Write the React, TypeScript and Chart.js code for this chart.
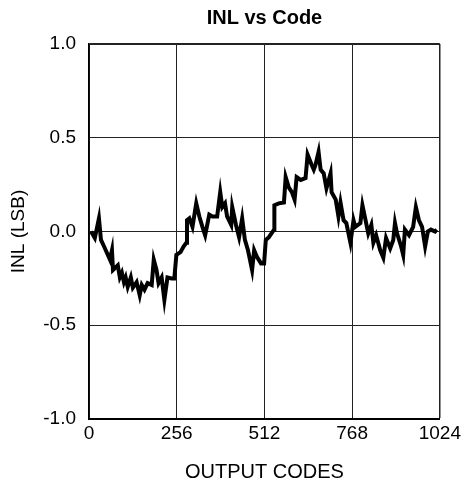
import React, { useEffect, useRef } from "react";
import { Chart, registerables } from "chart.js";

Chart.register(...registerables);

const codes = [
  6, 17, 29, 35, 44, 61, 67, 70, 84, 90, 96, 102, 107, 113, 122, 128, 139, 148, 154, 162,
  171, 183, 189, 197, 203, 212, 220, 229, 241, 249, 255, 267, 276, 284, 286, 293, 302, 313, 322, 331,
  339, 351, 360, 374, 383, 389, 397, 403, 415, 418, 429, 438, 447, 455, 464, 476, 482, 490, 502, 511,
  516, 525, 540, 541, 554, 569, 574, 583, 592, 600, 606, 618, 632, 638, 650, 656, 661, 670, 676, 685,
  693, 705, 708, 720, 728, 734, 743, 751, 763, 772, 777, 792, 798, 806, 815, 824, 830, 838, 850, 859,
  867, 879, 888, 893, 899, 911, 917, 922, 934, 946, 954, 963, 972, 981, 989, 998, 1010, 1015,
];

const inl = [
  0.0, -0.035, 0.07, -0.045, -0.08, -0.15, -0.1, -0.205, -0.18, -0.245, -0.22, -0.27, -0.245, -0.295, -0.245, -0.3, -0.27, -0.34, -0.285, -0.31,
  -0.275, -0.285, -0.15, -0.205, -0.275, -0.245, -0.365, -0.245, -0.25, -0.25, -0.125, -0.11, -0.08, -0.06, 0.06, 0.07, 0.025, 0.15, 0.08, 0.025,
  -0.02, 0.09, 0.08, 0.08, 0.21, 0.13, 0.15, 0.08, 0.035, 0.13, 0.035, -0.03, 0.07, -0.045, -0.1, -0.205, -0.1, -0.135, -0.17, -0.17,
  -0.045, -0.03, 0.01, 0.14, 0.15, 0.155, 0.29, 0.235, 0.21, 0.17, 0.29, 0.275, 0.285, 0.41, 0.355, 0.33, 0.355, 0.425, 0.33, 0.31,
  0.23, 0.31, 0.21, 0.17, 0.08, 0.155, 0.06, 0.045, -0.06, 0.06, 0.025, 0.045, 0.14, 0.07, -0.01, 0.035, -0.06, -0.02, -0.1, -0.14,
  -0.035, -0.09, -0.045, 0.045, -0.01, -0.08, -0.125, 0.01, -0.02, 0.025, 0.13, 0.06, 0.025, -0.08, 0.0, 0.01, 0.0, 0.01,
];

const xTicks = [0, 256, 512, 768, 1024];
const yTicks = [-1.0, -0.5, 0.0, 0.5, 1.0];

const FONT = "'Liberation Sans', Arial, Helvetica, sans-serif";

export default function App() {
  const ref = useRef<HTMLCanvasElement | null>(null);

  useEffect(() => {
    if (!ref.current) return;
    const chart = new Chart(ref.current, {
      type: "line",
      data: {
        datasets: [
          {
            data: codes.map((c, i) => ({ x: c, y: inl[i] })),
            borderColor: "#000",
            borderWidth: 4,
            pointRadius: 0,
            tension: 0,
            fill: false,
          },
        ],
      },
      options: {
        responsive: false,
        animation: false,
        layout: { padding: { left: 0, right: 22, top: 0, bottom: 0 } },
        plugins: {
          legend: { display: false },
          tooltip: { enabled: false },
          title: {
            display: true,
            text: "INL vs Code",
            fullSize: false,
            color: "#000",
            font: { family: FONT, size: 20, weight: "bold" },
            padding: { top: 6, bottom: 14 },
          },
        },
        scales: {
          x: {
            type: "linear",
            min: 0,
            max: 1024,
            afterFit: (s: any) => {
              s.height = 68;
            },
            afterBuildTicks: (s: any) => {
              s.ticks = xTicks.map((v) => ({ value: v }));
            },
            ticks: {
              color: "#000",
              font: { family: FONT, size: 19 },
              padding: 3,
              maxRotation: 0,
              callback: (v: any) => String(v),
            },
            grid: {
              color: "#222",
              lineWidth: (c: any) => (c.tick && c.tick.value === 1024 ? 1.5 : 1),
              drawTicks: false,
            },
            border: { color: "#000", width: 2 },
            title: {
              display: true,
              text: "OUTPUT CODES",
              color: "#000",
              font: { family: FONT, size: 20 },
              padding: { top: 0, bottom: 3 },
            },
          },
          y: {
            type: "linear",
            min: -1,
            max: 1,
            afterFit: (s: any) => {
              s.width = 89;
            },
            afterBuildTicks: (s: any) => {
              s.ticks = yTicks.map((v) => ({ value: v }));
            },
            ticks: {
              color: "#000",
              font: { family: FONT, size: 19 },
              padding: 13,
              callback: (v: any) => Number(v).toFixed(1),
            },
            grid: {
              color: "#222",
              lineWidth: (c: any) => (c.tick && c.tick.value === 1 ? 2 : 1),
              drawTicks: false,
            },
            border: { color: "#000", width: 1.5 },
            title: {
              display: true,
              text: "INL (LSB)",
              color: "#000",
              font: { family: FONT, size: 19 },
              padding: { top: 7, bottom: 0 },
            },
          },
        },
      },
    } as any);
    return () => chart.destroy();
  }, []);

  return (
    <div style={{ position: "absolute", left: 0, top: 0, width: 464, height: 487, background: "#fff" }}>
      <canvas ref={ref} width={464} height={487} />
    </div>
  );
}
